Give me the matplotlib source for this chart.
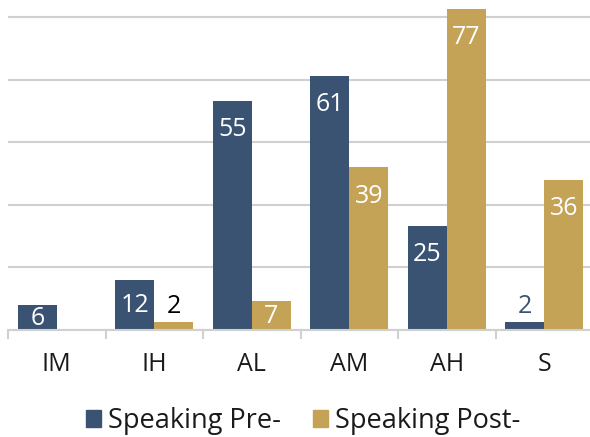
import numpy as np
import matplotlib.pyplot as plt
from matplotlib.patches import Patch

# dados
niveis = ["IM", "IH", "AL", "AM", "AH", "S"]
pre = [6, 12, 55, 61, 25, 2]
post = [0, 2, 7, 39, 77, 36]
series_names = ["Speaking Pre-", "Speaking Post-"]

navy = "#3A5372"
gold = "#C4A256"
grid_col = "#D0D0D0"

plt.rcParams["font.family"] = ["Open Sans", "DejaVu Sans"]

W, H = 590, 437
fig = plt.figure(figsize=(W / 100, H / 100), dpi=100)

# eixo: de x=8 a x=593 px, base em y=330 px, 4.17 px por unidade
base = 330
ymax = 80
px_per_unit = 4.17
ax = fig.add_axes([8 / W, (H - base) / H, 585 / W, ymax * px_per_unit / H])

x = np.arange(len(niveis))
w = 0.4
b1 = ax.bar(x - w / 2, pre, w, color=navy, zorder=3)
b2 = ax.bar(x + w / 2, post, w, color=gold, zorder=3)

ax.set_xlim(-0.5, len(niveis) - 0.5)
ax.set_ylim(0, ymax)
ax.set_yticks(np.arange(0, 76, 15))
ax.yaxis.grid(True, color=grid_col, linewidth=1.5, zorder=0)
ax.tick_params(axis="y", left=False, labelleft=False)

for s in ["left", "right", "top"]:
    ax.spines[s].set_visible(False)
ax.spines["bottom"].set_color(grid_col)
ax.spines["bottom"].set_linewidth(1.5)
ax.spines["bottom"].set_zorder(4)

ax.set_xticks(x)
ax.set_xticklabels(niveis, fontsize=18, color="#1A1A1A")
ax.tick_params(axis="x", length=0, pad=16)
ax.set_xticks(np.arange(-0.5, len(niveis)), minor=True)
ax.tick_params(axis="x", which="minor", length=6.5, width=1.5, color=grid_col)


# rótulos dos valores
def rotular(bars, vals, cor_fora):
    for r, v in zip(bars, vals):
        if v == 0:
            continue
        cx = r.get_x() + r.get_width() / 2
        h_px = v * px_per_unit
        if v <= 3:
            ax.annotate(str(v), (cx, v), xytext=(0, 15), textcoords="offset pixels",
                        ha="center", va="center", fontsize=18, color=cor_fora, zorder=5)
        else:
            off = min(29, h_px / 2 + 1)
            ax.annotate(str(v), (cx, v), xytext=(0, -off), textcoords="offset pixels",
                        ha="center", va="center", fontsize=18, color="white", zorder=5)


rotular(b1, pre, navy)
rotular(b2, post, "black")

handles = [Patch(color=navy), Patch(color=gold)]
fig.legend(handles, series_names, loc="center", bbox_to_anchor=(303 / W, 1 - 421 / H),
           ncol=2, frameon=False, fontsize=19.5, handlelength=0.55, handleheight=0.55,
           handletextpad=0.25, columnspacing=1.2, labelcolor="#1A1A1A")

fig.savefig("out.png", dpi=100)
